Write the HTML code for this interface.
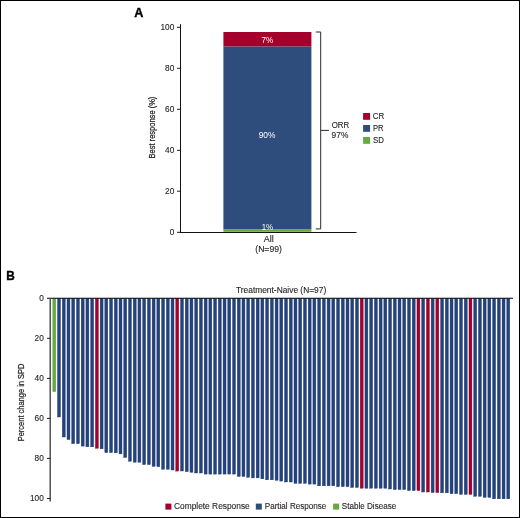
<!DOCTYPE html>
<html><head><meta charset="utf-8"><style>
html,body{margin:0;padding:0;background:#fff;}
body{width:520px;height:518px;overflow:hidden;position:relative;}
svg{position:absolute;left:0;top:0;will-change:transform;}
text{font-family:"Liberation Sans",sans-serif;font-size:8.3px;fill:#231F20;stroke:#231F20;stroke-width:0.12px;}
</style></head><body>
<svg width="520" height="518" viewBox="0 0 520 518">
<rect x="0.5" y="0.5" width="519" height="517" fill="#fff" stroke="#000" stroke-width="1"/>
<!-- Panel A -->
<line x1="177" y1="27.3" x2="180.5" y2="27.3" stroke="#231F20" stroke-width="1"/>
<text x="174.3" y="29.9" text-anchor="end">100</text>
<line x1="177" y1="68.3" x2="180.5" y2="68.3" stroke="#231F20" stroke-width="1"/>
<text x="174.3" y="70.9" text-anchor="end">80</text>
<line x1="177" y1="109.3" x2="180.5" y2="109.3" stroke="#231F20" stroke-width="1"/>
<text x="174.3" y="111.9" text-anchor="end">60</text>
<line x1="177" y1="150.3" x2="180.5" y2="150.3" stroke="#231F20" stroke-width="1"/>
<text x="174.3" y="152.9" text-anchor="end">40</text>
<line x1="177" y1="191.2" x2="180.5" y2="191.2" stroke="#231F20" stroke-width="1"/>
<text x="174.3" y="193.8" text-anchor="end">20</text>
<line x1="177" y1="232.3" x2="180.5" y2="232.3" stroke="#231F20" stroke-width="1"/>
<text x="174.3" y="234.9" text-anchor="end">0</text>
<line x1="180.5" y1="24.2" x2="180.5" y2="233" stroke="#111" stroke-width="1.05"/>
<rect x="223.4" y="32" width="88.0" height="14.6" fill="#A3002B"/>
<rect x="223.4" y="46.6" width="88.0" height="182.9" fill="#2E4C7C"/>
<rect x="223.4" y="229.3" width="88.0" height="2.5" fill="#64AA3C"/>
<line x1="180" y1="232.45" x2="356.5" y2="232.45" stroke="#111" stroke-width="1.05"/>
<path d="M315.8 32 H320.7 V228.9 H315.8 M320.7 130.4 H329" fill="none" stroke="#2a2a2a" stroke-width="1.0"/>
<rect x="363.1" y="113" width="7" height="6.8" fill="#A3002B"/>
<rect x="363.1" y="125" width="7" height="6.8" fill="#2E4C7C"/>
<rect x="363.1" y="137" width="7" height="6.8" fill="#64AA3C"/>
<!-- Panel B -->
<rect x="52.82" y="298.7" width="2.95" height="93.00" fill="#64AA3C" stroke="#5A9E34" stroke-width="0.4"/>
<rect x="57.55" y="298.7" width="2.95" height="118.30" fill="#24427C" stroke="#1C3870" stroke-width="0.4"/>
<rect x="62.28" y="298.7" width="2.95" height="138.30" fill="#24427C" stroke="#1C3870" stroke-width="0.4"/>
<rect x="67.01" y="298.7" width="2.95" height="140.90" fill="#24427C" stroke="#1C3870" stroke-width="0.4"/>
<rect x="71.74" y="298.7" width="2.95" height="145.00" fill="#24427C" stroke="#1C3870" stroke-width="0.4"/>
<rect x="76.47" y="298.7" width="2.95" height="145.00" fill="#24427C" stroke="#1C3870" stroke-width="0.4"/>
<rect x="81.20" y="298.7" width="2.95" height="147.40" fill="#24427C" stroke="#1C3870" stroke-width="0.4"/>
<rect x="85.93" y="298.7" width="2.95" height="148.10" fill="#24427C" stroke="#1C3870" stroke-width="0.4"/>
<rect x="90.66" y="298.7" width="2.95" height="148.10" fill="#24427C" stroke="#1C3870" stroke-width="0.4"/>
<rect x="95.39" y="298.7" width="2.95" height="149.60" fill="#A3002B" stroke="#8E0025" stroke-width="0.4"/>
<rect x="100.12" y="298.7" width="2.95" height="150.10" fill="#24427C" stroke="#1C3870" stroke-width="0.4"/>
<rect x="104.84" y="298.7" width="2.95" height="153.90" fill="#24427C" stroke="#1C3870" stroke-width="0.4"/>
<rect x="109.57" y="298.7" width="2.95" height="153.90" fill="#24427C" stroke="#1C3870" stroke-width="0.4"/>
<rect x="114.30" y="298.7" width="2.95" height="154.10" fill="#24427C" stroke="#1C3870" stroke-width="0.4"/>
<rect x="119.03" y="298.7" width="2.95" height="155.20" fill="#24427C" stroke="#1C3870" stroke-width="0.4"/>
<rect x="123.76" y="298.7" width="2.95" height="158.80" fill="#24427C" stroke="#1C3870" stroke-width="0.4"/>
<rect x="128.49" y="298.7" width="2.95" height="162.50" fill="#24427C" stroke="#1C3870" stroke-width="0.4"/>
<rect x="133.22" y="298.7" width="2.95" height="163.50" fill="#24427C" stroke="#1C3870" stroke-width="0.4"/>
<rect x="137.95" y="298.7" width="2.95" height="163.50" fill="#24427C" stroke="#1C3870" stroke-width="0.4"/>
<rect x="142.68" y="298.7" width="2.95" height="165.90" fill="#24427C" stroke="#1C3870" stroke-width="0.4"/>
<rect x="147.41" y="298.7" width="2.95" height="165.90" fill="#24427C" stroke="#1C3870" stroke-width="0.4"/>
<rect x="152.13" y="298.7" width="2.95" height="167.70" fill="#24427C" stroke="#1C3870" stroke-width="0.4"/>
<rect x="156.86" y="298.7" width="2.95" height="168.00" fill="#24427C" stroke="#1C3870" stroke-width="0.4"/>
<rect x="161.59" y="298.7" width="2.95" height="170.60" fill="#24427C" stroke="#1C3870" stroke-width="0.4"/>
<rect x="166.32" y="298.7" width="2.95" height="170.60" fill="#24427C" stroke="#1C3870" stroke-width="0.4"/>
<rect x="171.05" y="298.7" width="2.95" height="171.30" fill="#24427C" stroke="#1C3870" stroke-width="0.4"/>
<rect x="175.78" y="298.7" width="2.95" height="172.40" fill="#A3002B" stroke="#8E0025" stroke-width="0.4"/>
<rect x="180.51" y="298.7" width="2.95" height="172.30" fill="#24427C" stroke="#1C3870" stroke-width="0.4"/>
<rect x="185.24" y="298.7" width="2.95" height="173.00" fill="#24427C" stroke="#1C3870" stroke-width="0.4"/>
<rect x="189.97" y="298.7" width="2.95" height="173.60" fill="#24427C" stroke="#1C3870" stroke-width="0.4"/>
<rect x="194.70" y="298.7" width="2.95" height="174.30" fill="#24427C" stroke="#1C3870" stroke-width="0.4"/>
<rect x="199.42" y="298.7" width="2.95" height="174.30" fill="#24427C" stroke="#1C3870" stroke-width="0.4"/>
<rect x="204.15" y="298.7" width="2.95" height="175.40" fill="#24427C" stroke="#1C3870" stroke-width="0.4"/>
<rect x="208.88" y="298.7" width="2.95" height="175.40" fill="#24427C" stroke="#1C3870" stroke-width="0.4"/>
<rect x="213.61" y="298.7" width="2.95" height="175.40" fill="#24427C" stroke="#1C3870" stroke-width="0.4"/>
<rect x="218.34" y="298.7" width="2.95" height="175.40" fill="#24427C" stroke="#1C3870" stroke-width="0.4"/>
<rect x="223.07" y="298.7" width="2.95" height="175.40" fill="#24427C" stroke="#1C3870" stroke-width="0.4"/>
<rect x="227.80" y="298.7" width="2.95" height="175.40" fill="#24427C" stroke="#1C3870" stroke-width="0.4"/>
<rect x="232.53" y="298.7" width="2.95" height="175.40" fill="#24427C" stroke="#1C3870" stroke-width="0.4"/>
<rect x="237.26" y="298.7" width="2.95" height="177.80" fill="#24427C" stroke="#1C3870" stroke-width="0.4"/>
<rect x="241.98" y="298.7" width="2.95" height="177.80" fill="#24427C" stroke="#1C3870" stroke-width="0.4"/>
<rect x="246.71" y="298.7" width="2.95" height="178.60" fill="#24427C" stroke="#1C3870" stroke-width="0.4"/>
<rect x="251.44" y="298.7" width="2.95" height="179.20" fill="#24427C" stroke="#1C3870" stroke-width="0.4"/>
<rect x="256.17" y="298.7" width="2.95" height="179.20" fill="#24427C" stroke="#1C3870" stroke-width="0.4"/>
<rect x="260.90" y="298.7" width="2.95" height="180.10" fill="#24427C" stroke="#1C3870" stroke-width="0.4"/>
<rect x="265.63" y="298.7" width="2.95" height="181.10" fill="#24427C" stroke="#1C3870" stroke-width="0.4"/>
<rect x="270.36" y="298.7" width="2.95" height="181.10" fill="#24427C" stroke="#1C3870" stroke-width="0.4"/>
<rect x="275.09" y="298.7" width="2.95" height="181.60" fill="#24427C" stroke="#1C3870" stroke-width="0.4"/>
<rect x="279.82" y="298.7" width="2.95" height="182.40" fill="#24427C" stroke="#1C3870" stroke-width="0.4"/>
<rect x="284.55" y="298.7" width="2.95" height="183.30" fill="#24427C" stroke="#1C3870" stroke-width="0.4"/>
<rect x="289.27" y="298.7" width="2.95" height="183.30" fill="#24427C" stroke="#1C3870" stroke-width="0.4"/>
<rect x="294.00" y="298.7" width="2.95" height="184.70" fill="#24427C" stroke="#1C3870" stroke-width="0.4"/>
<rect x="298.73" y="298.7" width="2.95" height="184.70" fill="#24427C" stroke="#1C3870" stroke-width="0.4"/>
<rect x="303.46" y="298.7" width="2.95" height="184.60" fill="#24427C" stroke="#1C3870" stroke-width="0.4"/>
<rect x="308.19" y="298.7" width="2.95" height="185.40" fill="#24427C" stroke="#1C3870" stroke-width="0.4"/>
<rect x="312.92" y="298.7" width="2.95" height="185.40" fill="#24427C" stroke="#1C3870" stroke-width="0.4"/>
<rect x="317.65" y="298.7" width="2.95" height="187.10" fill="#24427C" stroke="#1C3870" stroke-width="0.4"/>
<rect x="322.38" y="298.7" width="2.95" height="187.10" fill="#24427C" stroke="#1C3870" stroke-width="0.4"/>
<rect x="327.11" y="298.7" width="2.95" height="187.10" fill="#24427C" stroke="#1C3870" stroke-width="0.4"/>
<rect x="331.84" y="298.7" width="2.95" height="187.10" fill="#24427C" stroke="#1C3870" stroke-width="0.4"/>
<rect x="336.56" y="298.7" width="2.95" height="188.00" fill="#24427C" stroke="#1C3870" stroke-width="0.4"/>
<rect x="341.29" y="298.7" width="2.95" height="188.00" fill="#24427C" stroke="#1C3870" stroke-width="0.4"/>
<rect x="346.02" y="298.7" width="2.95" height="188.00" fill="#24427C" stroke="#1C3870" stroke-width="0.4"/>
<rect x="350.75" y="298.7" width="2.95" height="188.80" fill="#24427C" stroke="#1C3870" stroke-width="0.4"/>
<rect x="355.48" y="298.7" width="2.95" height="188.80" fill="#24427C" stroke="#1C3870" stroke-width="0.4"/>
<rect x="360.21" y="298.7" width="2.95" height="189.50" fill="#A3002B" stroke="#8E0025" stroke-width="0.4"/>
<rect x="364.94" y="298.7" width="2.95" height="189.50" fill="#24427C" stroke="#1C3870" stroke-width="0.4"/>
<rect x="369.67" y="298.7" width="2.95" height="189.50" fill="#24427C" stroke="#1C3870" stroke-width="0.4"/>
<rect x="374.40" y="298.7" width="2.95" height="189.50" fill="#24427C" stroke="#1C3870" stroke-width="0.4"/>
<rect x="379.13" y="298.7" width="2.95" height="189.50" fill="#24427C" stroke="#1C3870" stroke-width="0.4"/>
<rect x="383.86" y="298.7" width="2.95" height="189.50" fill="#24427C" stroke="#1C3870" stroke-width="0.4"/>
<rect x="388.58" y="298.7" width="2.95" height="190.30" fill="#24427C" stroke="#1C3870" stroke-width="0.4"/>
<rect x="393.31" y="298.7" width="2.95" height="190.90" fill="#24427C" stroke="#1C3870" stroke-width="0.4"/>
<rect x="398.04" y="298.7" width="2.95" height="190.90" fill="#24427C" stroke="#1C3870" stroke-width="0.4"/>
<rect x="402.77" y="298.7" width="2.95" height="190.90" fill="#24427C" stroke="#1C3870" stroke-width="0.4"/>
<rect x="407.50" y="298.7" width="2.95" height="191.90" fill="#24427C" stroke="#1C3870" stroke-width="0.4"/>
<rect x="412.23" y="298.7" width="2.95" height="191.90" fill="#24427C" stroke="#1C3870" stroke-width="0.4"/>
<rect x="416.96" y="298.7" width="2.95" height="191.90" fill="#A3002B" stroke="#8E0025" stroke-width="0.4"/>
<rect x="421.69" y="298.7" width="2.95" height="193.30" fill="#24427C" stroke="#1C3870" stroke-width="0.4"/>
<rect x="426.42" y="298.7" width="2.95" height="193.30" fill="#A3002B" stroke="#8E0025" stroke-width="0.4"/>
<rect x="431.14" y="298.7" width="2.95" height="193.90" fill="#24427C" stroke="#1C3870" stroke-width="0.4"/>
<rect x="435.87" y="298.7" width="2.95" height="193.90" fill="#A3002B" stroke="#8E0025" stroke-width="0.4"/>
<rect x="440.60" y="298.7" width="2.95" height="194.10" fill="#24427C" stroke="#1C3870" stroke-width="0.4"/>
<rect x="445.33" y="298.7" width="2.95" height="194.10" fill="#24427C" stroke="#1C3870" stroke-width="0.4"/>
<rect x="450.06" y="298.7" width="2.95" height="195.00" fill="#24427C" stroke="#1C3870" stroke-width="0.4"/>
<rect x="454.79" y="298.7" width="2.95" height="195.00" fill="#24427C" stroke="#1C3870" stroke-width="0.4"/>
<rect x="459.52" y="298.7" width="2.95" height="195.70" fill="#24427C" stroke="#1C3870" stroke-width="0.4"/>
<rect x="464.25" y="298.7" width="2.95" height="195.70" fill="#24427C" stroke="#1C3870" stroke-width="0.4"/>
<rect x="468.98" y="298.7" width="2.95" height="195.70" fill="#A3002B" stroke="#8E0025" stroke-width="0.4"/>
<rect x="473.71" y="298.7" width="2.95" height="197.60" fill="#24427C" stroke="#1C3870" stroke-width="0.4"/>
<rect x="478.44" y="298.7" width="2.95" height="197.60" fill="#24427C" stroke="#1C3870" stroke-width="0.4"/>
<rect x="483.16" y="298.7" width="2.95" height="198.70" fill="#24427C" stroke="#1C3870" stroke-width="0.4"/>
<rect x="487.89" y="298.7" width="2.95" height="198.70" fill="#24427C" stroke="#1C3870" stroke-width="0.4"/>
<rect x="492.62" y="298.7" width="2.95" height="200.10" fill="#24427C" stroke="#1C3870" stroke-width="0.4"/>
<rect x="497.35" y="298.7" width="2.95" height="200.10" fill="#24427C" stroke="#1C3870" stroke-width="0.4"/>
<rect x="502.08" y="298.7" width="2.95" height="200.10" fill="#24427C" stroke="#1C3870" stroke-width="0.4"/>
<rect x="506.81" y="298.7" width="2.95" height="200.10" fill="#24427C" stroke="#1C3870" stroke-width="0.4"/>
<line x1="47" y1="298.3" x2="513" y2="298.3" stroke="#000" stroke-width="1.1"/>
<line x1="50.2" y1="298" x2="50.2" y2="501.5" stroke="#444" stroke-width="1.4"/>
<text x="43.8" y="301.0" text-anchor="end">0</text>
<line x1="47" y1="338.3" x2="50.2" y2="338.3" stroke="#231F20" stroke-width="1"/>
<text x="43.8" y="341.0" text-anchor="end">20</text>
<line x1="47" y1="378.4" x2="50.2" y2="378.4" stroke="#231F20" stroke-width="1"/>
<text x="43.8" y="381.1" text-anchor="end">40</text>
<line x1="47" y1="418.4" x2="50.2" y2="418.4" stroke="#231F20" stroke-width="1"/>
<text x="43.8" y="421.1" text-anchor="end">60</text>
<line x1="47" y1="458.4" x2="50.2" y2="458.4" stroke="#231F20" stroke-width="1"/>
<text x="43.8" y="461.1" text-anchor="end">80</text>
<line x1="47" y1="498.5" x2="50.2" y2="498.5" stroke="#231F20" stroke-width="1"/>
<text x="43.8" y="501.2" text-anchor="end">100</text>
<rect x="165.4" y="503.6" width="6" height="6" fill="#A3002B"/>
<rect x="255.8" y="503.6" width="6" height="6" fill="#2E4C7C"/>
<rect x="333.1" y="503.6" width="6" height="6" fill="#64AA3C"/>
<text x="261.48" y="43.20" textLength="11.70" lengthAdjust="spacingAndGlyphs" style="font-size:8.3px;fill:#fff;stroke:none;">7%</text>
<text x="258.71" y="137.50" textLength="16.79" lengthAdjust="spacingAndGlyphs" style="font-size:8.3px;fill:#fff;stroke:none;">90%</text>
<text x="261.69" y="229.60" textLength="11.49" lengthAdjust="spacingAndGlyphs" style="font-size:8.3px;fill:#fff;stroke:none;">1%</text>
<text x="263.68" y="242.00" textLength="10.02" lengthAdjust="spacingAndGlyphs" style="font-size:8.3px;">All</text>
<text x="255.26" y="252.00" textLength="26.67" lengthAdjust="spacingAndGlyphs" style="font-size:8.3px;">(N=99)</text>
<text x="331.63" y="127.50" textLength="17.54" lengthAdjust="spacingAndGlyphs" style="font-size:8.3px;">ORR</text>
<text x="331.61" y="137.80" textLength="16.69" lengthAdjust="spacingAndGlyphs" style="font-size:8.3px;">97%</text>
<text x="372.69" y="118.80" textLength="11.58" lengthAdjust="spacingAndGlyphs" style="font-size:8.3px;">CR</text>
<text x="372.98" y="130.70" textLength="10.58" lengthAdjust="spacingAndGlyphs" style="font-size:8.3px;">PR</text>
<text x="372.94" y="142.90" textLength="10.93" lengthAdjust="spacingAndGlyphs" style="font-size:8.3px;">SD</text>
<text x="236.01" y="292.80" textLength="90.20" lengthAdjust="spacingAndGlyphs" style="font-size:8.3px;">Treatment-Naive (N=97)</text>
<text x="173.98" y="509.00" textLength="75.80" lengthAdjust="spacingAndGlyphs" style="font-size:8.3px;">Complete Response</text>
<text x="264.74" y="509.00" textLength="61.62" lengthAdjust="spacingAndGlyphs" style="font-size:8.3px;">Partial Response</text>
<text x="341.73" y="509.00" textLength="54.63" lengthAdjust="spacingAndGlyphs" style="font-size:8.3px;">Stable Disease</text>
<text x="134.18" y="16.50" textLength="9.15" lengthAdjust="spacingAndGlyphs" style="font-size:12.2px;fill:#000;stroke:#000;stroke-width:0.35px;font-weight:bold;">A</text>
<text x="6.31" y="279.60" textLength="8.53" lengthAdjust="spacingAndGlyphs" style="font-size:12.2px;fill:#000;stroke:#000;stroke-width:0.35px;font-weight:bold;">B</text>
<text transform="translate(155.00,158.52) rotate(-90)" x="0" y="0" textLength="61.88" lengthAdjust="spacingAndGlyphs" style="font-size:9.8px;stroke-width:0.25px">Best response (%)</text>
<text transform="translate(23.90,441.31) rotate(-90)" x="0" y="0" textLength="77.77" lengthAdjust="spacingAndGlyphs" style="font-size:9.6px;stroke-width:0.25px">Percent change in SPD</text>
</svg>
</body></html>
